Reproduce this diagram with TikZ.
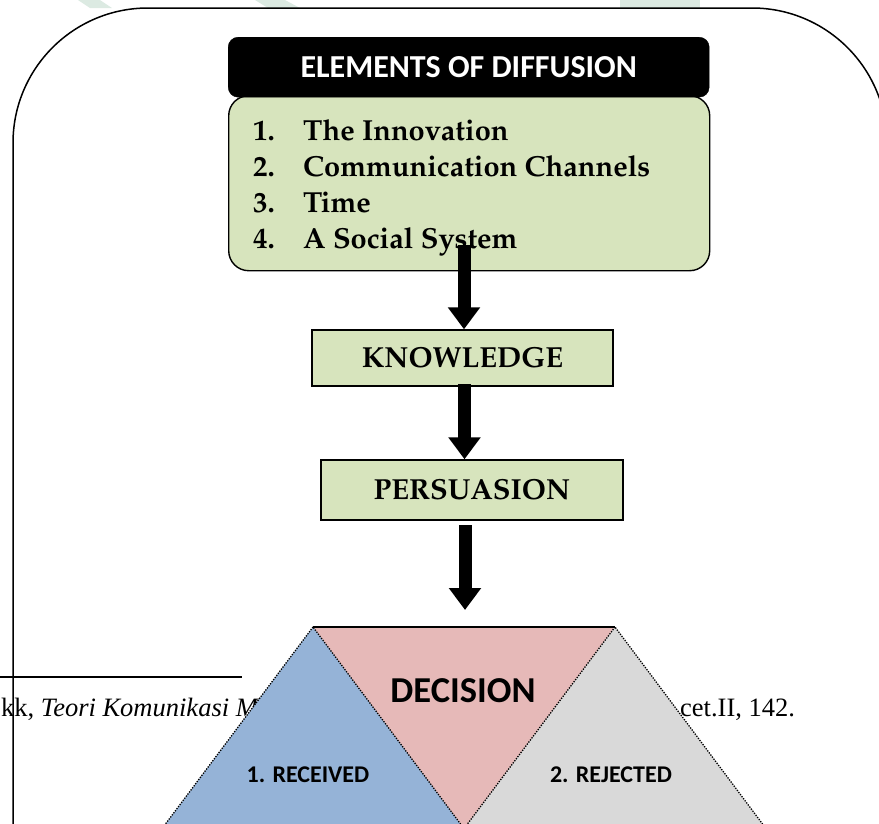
\documentclass[tikz,border=0pt]{standalone}
\usepackage[T1]{fontenc}
\usepackage{fontspec}
\setmainfont{Liberation Serif}
\newfontfamily\calibfont{Carlito}
\newcommand\palafont{\fontencoding{T1}\fontfamily{ppl}\fontseries{b}\fontshape{n}\selectfont}
\usetikzlibrary{arrows.meta}
\definecolor{boxgreen}{HTML}{D7E4BD}
\definecolor{tblue}{HTML}{95B3D7}
\definecolor{tpink}{HTML}{E6B9B8}
\definecolor{tgray}{HTML}{D9D9D9}
\definecolor{wmark}{HTML}{DCEAE2}
\tikzset{
  greenbox/.style={draw=black, line width=1.4pt, fill=boxgreen, inner sep=0pt},
  bigarrow/.style={line width=13pt, -{Triangle[width=31pt,length=22pt]}},
  tri/.style={draw=black, line width=1.3pt, dash pattern=on 1.3pt off 1.3pt},
  listitem/.style={anchor=base west, inner sep=0pt, font=\palafont\fontsize{29}{33}\selectfont},
}
\begin{document}
\begin{tikzpicture}[x=1pt,y=-1pt]
\useasboundingbox (0,0) rectangle (879,823);
\clip (0,0) rectangle (879,823);
% faint watermark pieces
\fill[wmark] (78,0) -- (100,0) -- (112,8) -- (90,8) -- cycle;
\fill[wmark] (255,0) -- (285,0) -- (300,8) -- (268,8) -- cycle;
\fill[wmark] (620,0) -- (700,0) -- (700,8) -- (620,8) -- cycle;

% footnote (behind the triangles)
\draw[line width=1.3pt] (0,677) coordinate (fnl) -- (242,677) coordinate (fnr);
\node[anchor=base west, inner sep=0pt, font=\fontsize{26.5}{30}\selectfont] (fn1) at (1,716) {kk, \textit{Teori Komunikasi M}};
\node[anchor=base west, inner sep=0pt, font=\fontsize{26.5}{30}\selectfont] (fn2) at (680,716) {cet.II, 142.};

% outer frame
\draw[line width=1.5pt, rounded corners=135pt] (13,900) -- (13,8) -- (887,8) -- (887,900);

% header and list box
\node[greenbox, rounded corners=20pt, minimum width=481pt, minimum height=175pt, anchor=north west] (list) at (228,95) {};
\node[fill=black, draw=black, rounded corners=10pt, minimum width=481pt, minimum height=60pt, anchor=north west, inner sep=0pt] (head) at (228,37) {};
\node[text=white, font=\calibfont\bfseries\fontsize{32}{36}\selectfont] (headtxt) at (head.center) {ELEMENTS OF DIFFUSION};
\node[listitem] (li1) at (253,140) {\makebox[50pt][l]{1.}The Innovation};
\node[listitem] (li2) at (253,176) {\makebox[50pt][l]{2.}Communication Channels};
\node[listitem] (li3) at (253,212) {\makebox[50pt][l]{3.}Time};
\node[listitem] (li4) at (253,248) {\makebox[50pt][l]{4.}A Social System};

% stage boxes
\node[greenbox, minimum width=301pt, minimum height=56pt, font=\palafont\fontsize{29}{33}\selectfont] (know) at (462.5,358) {KNOWLEDGE};
\node[greenbox, minimum width=302pt, minimum height=60pt, font=\palafont\fontsize{29}{33}\selectfont] (pers) at (472,490) {PERSUASION};

% arrows
\coordinate (a1s) at (464,245);
\draw[bigarrow] (a1s) -- (a1s |- know.north);
\coordinate (a2s) at (464.5,384);
\draw[bigarrow] (a2s) -- (a2s |- pers.north);
\coordinate (a3s) at (465,525);
\coordinate (a3e) at (465,610);
\draw[bigarrow] (a3s) -- (a3e);

% decision triangles
\coordinate (tl) at (313,627);
\coordinate (tr) at (615,627);
\fill[tpink] (tl) -- (tr) -- (464,830) -- cycle;
\filldraw[tri, fill=tblue] (tl) -- (146,850) -- (480,850) -- cycle;
\filldraw[tri, fill=tgray] (tr) -- (448,850) -- (782,850) -- cycle;
\draw[line width=2pt] (tl) -- (tr);
\node[font=\calibfont\bfseries\fontsize{36.5}{40}\selectfont] (dec) at (463,691) {DECISION};
\node[font=\calibfont\bfseries\fontsize{24}{28}\selectfont] (rec) at (308,775) {1. RECEIVED};
\node[font=\calibfont\bfseries\fontsize{24}{28}\selectfont] (rej) at (611,775) {2. REJECTED};
\end{tikzpicture}
\end{document}
